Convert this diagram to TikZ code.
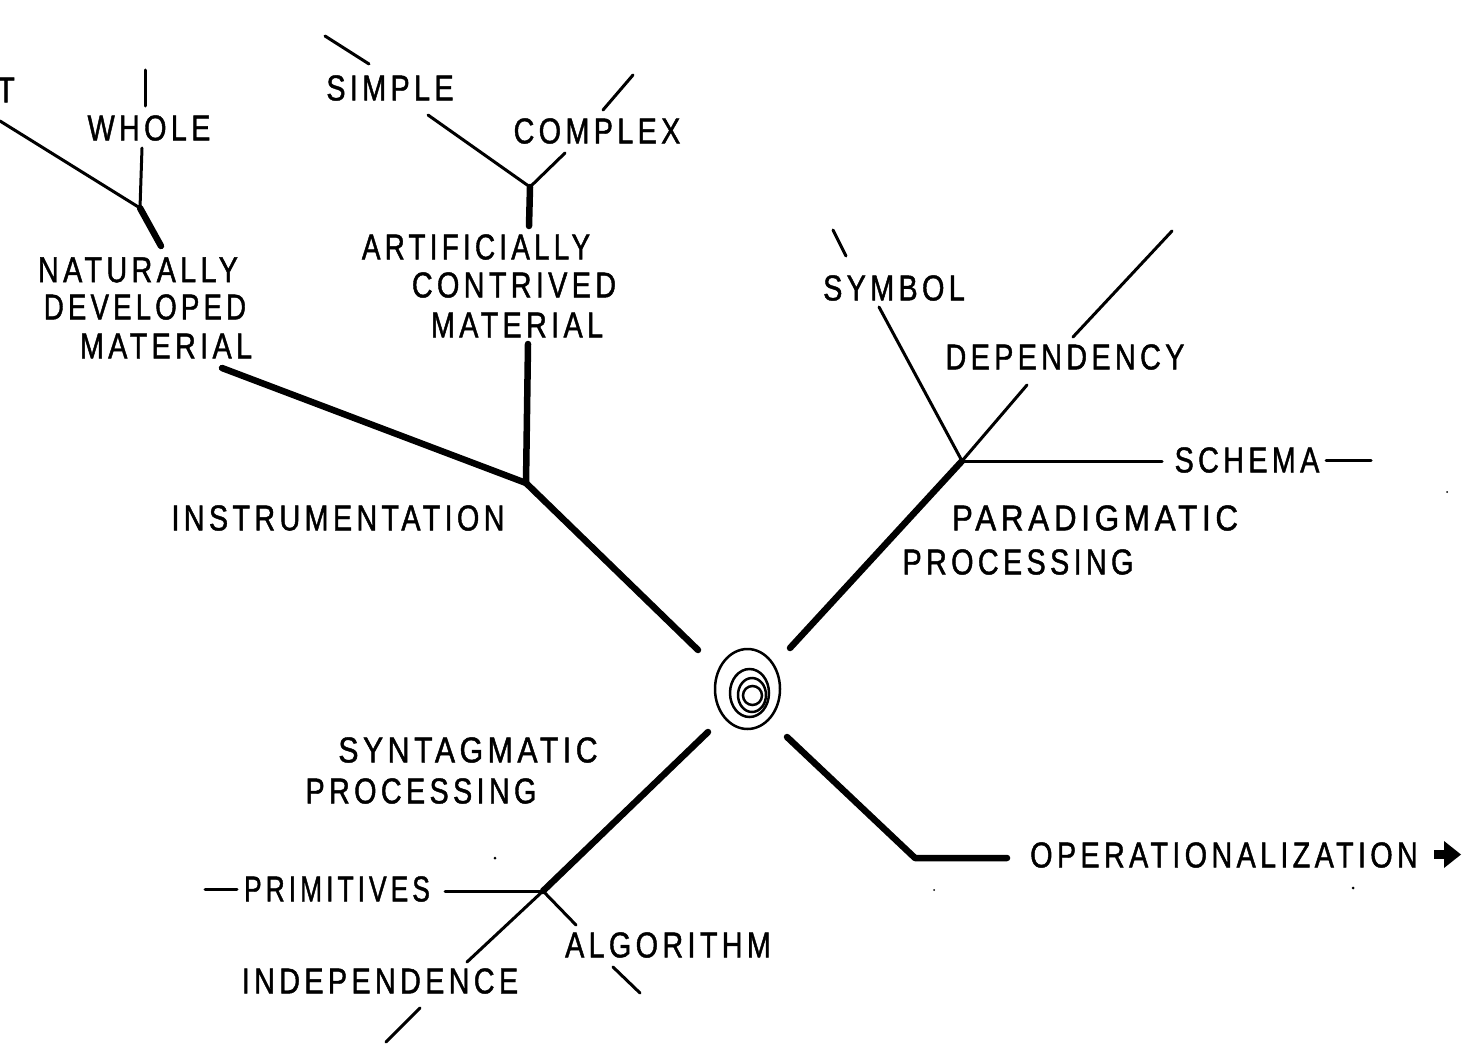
\documentclass[tikz,border=0pt]{standalone}
\usepackage{fontspec}
\setmainfont{Liberation Sans}[FakeStretch=0.8,LetterSpace=12,FakeBold=1.2]
\begin{document}
\begin{tikzpicture}[x=1pt,y=-1pt,
  lbl/.style={inner sep=0pt,anchor=center,font=\fontsize{36}{40}\selectfont},
  thick line/.style={line width=6.5pt,line cap=round},
  thin line/.style={line width=3pt,line cap=round},
  ring/.style={line width=2.5pt}]
\useasboundingbox (0,0) rectangle (1469,1057);
% ---- coordinates (junctions and free ends)
\coordinate (c) at (748,690);
\coordinate (j1) at (526,483);
\coordinate (j2) at (530,187);
\coordinate (j3) at (140,208);
\coordinate (j4) at (962,461);
\coordinate (j5) at (543,891);
\coordinate (j6) at (915,858);
% ---- labels
\node[lbl] (t) at (6,90) {T};
\node[lbl] (whole) at (149,128) {WHOLE};
\node[lbl] (simple) at (390,88) {SIMPLE};
\node[lbl] (complex) at (597,131) {COMPLEX};
\node[lbl] (nat1) at (138,270) {NATURALLY};
\node[lbl] (nat2) at (145,307) {\scalebox{0.96}[1]{DEVELOPED}};
\node[lbl] (nat3) at (166,346) {MATERIAL};
\node[lbl] (art1) at (476,247) {\scalebox{0.97}[1]{ARTIFICIALLY}};
\node[lbl] (art2) at (514,285) {CONTRIVED};
\node[lbl] (art3) at (517,325) {MATERIAL};
\node[lbl] (instr) at (338,518) {INSTRUMENTATION};
\node[lbl] (symbol) at (894,288) {SYMBOL};
\node[lbl] (depend) at (1065,357) {DEPENDENCY};
\node[lbl] (schema) at (1247,460) {SCHEMA};
\node[lbl] (par1) at (1095,518) {\scalebox{1.09}[1]{PARADIGMATIC}};
\node[lbl] (par2) at (1018,562) {PROCESSING};
\node[lbl] (syn1) at (468,750) {\scalebox{1.05}[1]{SYNTAGMATIC}};
\node[lbl] (syn2) at (421,791) {PROCESSING};
\node[lbl] (prim) at (337,889) {\scalebox{0.92}[1]{PRIMITIVES}};
\node[lbl] (algo) at (668,945) {ALGORITHM};
\node[lbl] (indep) at (380,981) {INDEPENDENCE};
\node[lbl] (oper) at (1224,855) {OPERATIONALIZATION};
% ---- centre spiral
\draw[ring] (747.5,689) ellipse [x radius=32.5,y radius=40];
\draw[ring] (749.5,693) ellipse [x radius=19.5,y radius=24];
\draw[ring] (752,695) ellipse [x radius=14,y radius=17];
\draw[ring] (752.5,695.5) ellipse [x radius=9.5,y radius=9.5];
% ---- upper left arm: instrumentation
\draw[thick line] (698,650) -- (j1);
\draw[thick line] (j1) -- (222,368);
\draw[thick line] (j1) -- (528,344);
\draw[thick line] (529,226) -- (j2);
\draw[thin line] (j2) -- (428,115);
\draw[thin line] (j2) -- (565,153);
\draw[thin line] (325,36) -- (369,64);
\draw[thin line] (603,110) -- (633,75);
\draw[thick line] (161,246) -- (j3);
\draw[thin line] (j3) -- (142,148);
\draw[thin line] (j3) -- (0,121);
\draw[thin line] (145,70) -- (145,106);
% ---- upper right arm: paradigmatic processing
\draw[thick line] (790,648) -- (j4);
\draw[thin line] (j4) -- (879,307);
\draw[thin line] (j4) -- (1027,385);
\draw[thin line] (j4) -- (1162,461);
\draw[thin line] (1326,460) -- (1371,460);
\draw[thin line] (833,230) -- (846,256);
\draw[thin line] (1073,337) -- (1172,231);
% ---- lower left arm: syntagmatic processing
\draw[thick line] (708,732) -- (j5);
\draw[thin line] (j5) -- (445,891);
\draw[thin line] (205,889) -- (237,889);
\draw[thin line] (j5) -- (467,962);
\draw[thin line] (j5) -- (576,925);
\draw[thin line] (613,967) -- (640,993);
\draw[thin line] (420,1008) -- (386,1042);
% ---- lower right arm: operationalization
\draw[thick line,line join=round] (787,737) -- (j6) -- (1007,858);
\fill (1434,850) rectangle (1447,859);
\fill (1444,841) -- (1461,854.5) -- (1444,868) -- cycle;
% ---- specks
\fill (495,858) circle (1.5);
\fill (1353,888) circle (1.5);
\fill (1447,492) circle (1);
\fill (934,890) circle (1);
\end{tikzpicture}
\end{document}
